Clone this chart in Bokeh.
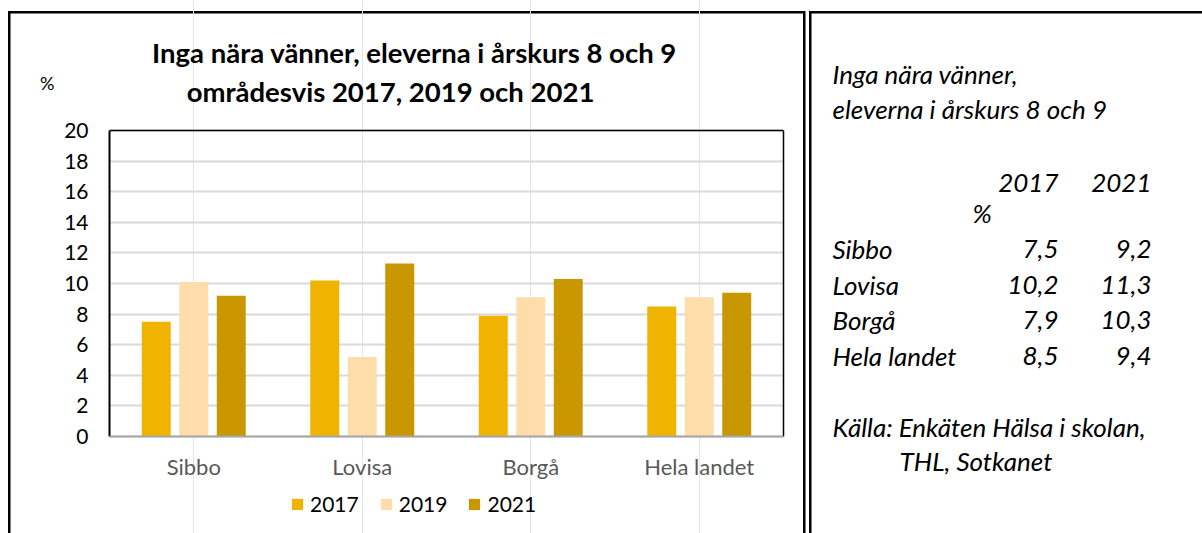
from bokeh.plotting import figure
from bokeh.models import (FactorRange, Range1d, LinearAxis, Label, Span, Legend,
                          LegendItem, ColumnDataSource, FixedTicker, InlineStyleSheet)
from bokeh.transform import dodge
from bokeh.layouts import row
from bokeh.embed import file_html
from bokeh.resources import INLINE
from bokeh.core.properties import value

# ---------------- data ----------------
categories = ["Sibbo", "Lovisa", "Borgå", "Hela landet"]
years = ["2017", "2019", "2021"]
v2017 = [7.5, 10.2, 7.9, 8.5]
v2019 = [10.1, 5.2, 9.1, 9.1]
v2021 = [9.2, 11.3, 10.3, 9.4]
y_ticks = [0, 2, 4, 6, 8, 10, 12, 14, 16, 18, 20]
colors = ["#F0B400", "#FFDDAA", "#C99700"]

title_lines = ["Inga nära vänner, eleverna i årskurs 8 och 9",
               "områdesvis 2017, 2019 och 2021"]
side_title = ["Inga nära vänner,", "eleverna i årskurs 8 och 9"]
table_years = ["2017", "2021"]
table_v2017 = [f"{v:.1f}".replace(".", ",") for v in v2017]
table_v2021 = [f"{v:.1f}".replace(".", ",") for v in v2021]
source_text = ["Källa: Enkäten Hälsa i skolan,", "THL, Sotkanet"]

FONT = "Lato"

# ---------------- left: chart ----------------
W_P, H_P = 805, 533
ML, MR = 109, 22                          # frame reaches top and bottom of the canvas
px_left, px_right = ML, W_P - MR
px_top, px_bottom = 0, H_P
chart_top_px, chart_base_px = 130.0, 436.0   # page y of the values 20 and 0
unit_px = (chart_base_px - chart_top_px) / 20
y_start = -(px_bottom - chart_base_px) / unit_px
y_end = (chart_base_px - px_top) / unit_px


def xsyn(page_x):
    """page x -> synthetic categorical coordinate of the chart"""
    return (page_x - px_left) / (px_right - px_left) * len(categories)


p = figure(width=W_P, height=H_P,
           x_range=FactorRange(factors=categories, range_padding=0),
           y_range=Range1d(y_start, y_end), x_axis_location=None,
           output_backend="svg", toolbar_location=None,
           min_border_left=ML, min_border_right=MR, min_border_top=0, min_border_bottom=0)
p.title.visible = False
p.extra_y_ranges = {"px": Range1d(px_bottom, px_top)}
p.outline_line_color = None
p.background_fill_alpha = 0
p.border_fill_alpha = 0

src = ColumnDataSource(dict(cat=categories, v2017=v2017, v2019=v2019, v2021=v2021))
offsets = [-0.2225, 0.0, 0.2225]
bar_renderers = []
for yr, off, col in zip(years, offsets, colors):
    r = p.vbar(x=dodge("cat", off, range=p.x_range), top="v" + yr, bottom=0, width=0.172,
               source=src, fill_color=col, line_color=None)
    bar_renderers.append(r)

yax = p.yaxis[0]
yax.ticker = FixedTicker(ticks=y_ticks)
yax.bounds = (0, 20)
yax.axis_line_color = "black"
yax.axis_line_width = 2
yax.major_tick_line_color = None
yax.minor_tick_line_color = None
yax.major_tick_out = 0
yax.major_tick_in = 0
yax.major_label_standoff = 21
yax.major_label_text_font = FONT
yax.major_label_text_font_size = "21px"
yax.major_label_text_color = "black"

# unit label "%" at the top-left, drawn as a tick label of a second left axis
pct_axis = LinearAxis(y_range_name="px", ticker=FixedTicker(ticks=[82]),
                      major_label_overrides={82: "%"}, axis_line_color=None,
                      major_tick_line_color=None, minor_tick_line_color=None,
                      major_tick_out=0, major_tick_in=0, major_label_standoff=7,
                      major_label_text_font=FONT, major_label_text_font_size="18px",
                      major_label_text_color="black")
p.add_layout(pct_axis, "left")

p.ygrid.ticker = FixedTicker(ticks=y_ticks)
p.ygrid.grid_line_color = "#d9d9d9"
p.ygrid.grid_line_width = 2

right_axis = LinearAxis(ticker=FixedTicker(ticks=[]), bounds=(0, 20), axis_line_color="black",
                        axis_line_width=1.5, major_tick_line_color=None,
                        minor_tick_line_color=None, major_tick_out=0, major_tick_in=0,
                        major_label_text_font_size="0px")
p.add_layout(right_axis, "right")
p.add_layout(Span(location=20, dimension="width", line_color="black", line_width=1.5))
# category axis line
p.add_layout(Span(location=0, dimension="width", line_color="#a6a6a6", line_width=2))

# category labels, placed through the categorical scale
p.text(x=categories, y=[466] * len(categories), y_range_name="px", text=categories,
       text_align="center", text_baseline="alphabetic", text_font=value(FONT),
       text_font_size="22px", text_color="#595959")

leg = Legend(items=[LegendItem(label=yr, renderers=[r]) for yr, r in zip(years, bar_renderers)],
             orientation="horizontal", location=(290 - px_left, 17), padding=0, margin=0,
             spacing=20, label_standoff=6, glyph_width=14, glyph_height=14,
             border_line_color=None, background_fill_alpha=0,
             label_text_font=FONT, label_text_font_size="21px", label_text_color="black")
p.add_layout(leg)

title_x = [414, 390]
title_y = [52, 91]
for t, tx, ty in zip(title_lines, title_x, title_y):
    p.add_layout(Label(x=xsyn(tx), y=ty, y_range_name="px", text=t,
                       text_align="center", text_baseline="alphabetic", text_font=FONT,
                       text_font_style="bold", text_font_size="27.5px", text_color="black"))

# ---------------- right: text panel ----------------
Q_X0 = W_P
W_Q, H_Q = 1202 - W_P, H_P
q = figure(width=W_Q, height=H_Q,
           x_range=Range1d(Q_X0, Q_X0 + W_Q), y_range=Range1d(px_bottom, px_top),
           x_axis_type=None, y_axis_type=None, min_border=0,
           min_border_left=0, min_border_right=0, min_border_top=0, min_border_bottom=0,
           output_backend="svg", toolbar_location=None)
q.title.visible = False
q.outline_line_color = None
q.background_fill_alpha = 0
q.border_fill_alpha = 0

common = dict(text_font=value(FONT), text_font_style="italic", text_font_size="26px",
              text_color="black", text_baseline="alphabetic")
TX, C1, C2 = 832, 1058, 1151
q.text(x=[TX, TX], y=[73, 108], text=side_title, text_align="left", **common)
q.text(x=[C1, C2], y=[182, 182], text=table_years, text_align="right", **common)
q.text(x=[972], y=[212], text=["%"], text_align="left", **common)
row_y = [248.5 + 35.5 * i for i in range(len(categories))]
q.text(x=[TX] * len(categories), y=row_y, text=categories, text_align="left", **common)
q.text(x=[C1] * len(categories), y=row_y, text=table_v2017, text_align="right", **common)
q.text(x=[C2] * len(categories), y=row_y, text=table_v2021, text_align="right", **common)
q.text(x=[TX, 899], y=[426, 460.5], text=source_text, text_align="left", **common)

# panel borders as a css background behind the (transparent) figures
lines = [  # (x, y, w, h) in page pixels
    (8, 11, 2.5, 522), (8, 11, 797, 2.5), (802.5, 11, 2.5, 522),
    (809, 11, 2.5, 522), (809, 11, 393, 2.5),
]
css = ":host { background-color: white; background-repeat: no-repeat; background-image: %s; background-position: %s; background-size: %s; }" % (
    ", ".join(["linear-gradient(#000, #000)"] * len(lines)),
    ", ".join(f"{x}px {y}px" for x, y, w, h in lines),
    ", ".join(f"{w}px {h}px" for x, y, w, h in lines),
)

layout = row(p, q, stylesheets=[InlineStyleSheet(css=css)])
open("out.html", "w").write(file_html(layout, INLINE))
